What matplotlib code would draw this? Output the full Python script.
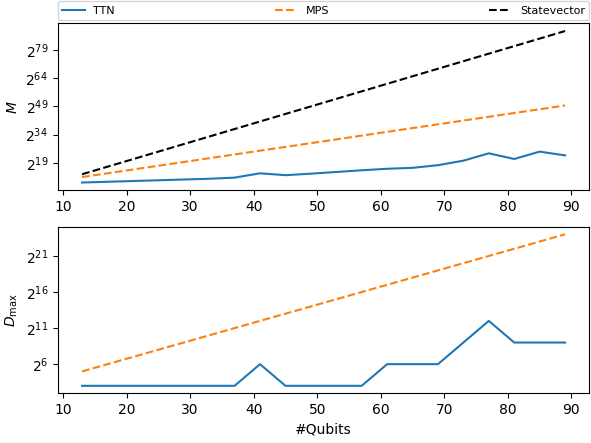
import numpy as np
import matplotlib
matplotlib.use("Agg")
import matplotlib.pyplot as plt
from matplotlib.ticker import FixedLocator, FuncFormatter, NullLocator

# qubit counts
qubits = [13, 17, 21, 25, 29, 33, 37, 41, 45, 49, 53, 57, 61, 65, 69, 73, 77, 81, 85, 89]

# memory M, read as log2 exponents
m_ttn_exp = [8.6, 9.0, 9.4, 9.8, 10.2, 10.6, 11.2, 13.5, 12.5, 13.3, 14.2, 15.1,
             15.9, 16.4, 17.8, 20.2, 24.1, 21.1, 25.0, 23.0]
m_mps_exp = [11.5, 13.5, 15.5, 17.5, 19.5, 21.5, 23.5, 25.5, 27.5, 29.5, 31.5, 33.5,
             35.5, 37.5, 39.5, 41.5, 43.5, 45.5, 47.5, 49.5]
m_sv_exp = [13, 17, 21, 25, 29, 33, 37, 41, 45, 49, 53, 57, 61, 65, 69, 73, 77, 81, 85, 89]

# max bond dimension, log2 exponents
d_ttn_exp = [3, 3, 3, 3, 3, 3, 3, 6, 3, 3, 3, 3, 6, 6, 6, 9, 12, 9, 9, 9]
d_mps_exp = [5, 6, 7, 8, 9, 10, 11, 12, 13, 14, 15, 16, 17, 18, 19, 20, 21, 22, 23, 24]

m_ticks = [19, 34, 49, 64, 79]
d_ticks = [6, 11, 16, 21]

pow2 = lambda e: 2.0 ** np.array(e, dtype=float)
fmt = FuncFormatter(lambda v, p: r"$\mathdefault{2^{%d}}$" % round(np.log2(v)))

fig, (ax1, ax2) = plt.subplots(2, 1, figsize=(5.91, 4.43), dpi=100)
fig.subplots_adjust(left=0.098, right=0.997, top=0.947, bottom=0.112, hspace=0.22)

ax1.plot(qubits, pow2(m_ttn_exp), color="C0", label="TTN")
ax1.plot(qubits, pow2(m_mps_exp), color="C1", linestyle="--", label="MPS")
ax1.plot(qubits, pow2(m_sv_exp), color="black", linestyle="--", label="Statevector")
ax1.set_yscale("log", base=2)
ax1.yaxis.set_major_locator(FixedLocator(pow2(m_ticks)))
ax1.yaxis.set_major_formatter(fmt)
ax1.yaxis.set_minor_locator(NullLocator())
ax1.set_ylabel("$M$")
ax1.legend(bbox_to_anchor=(0, 1.02, 1, 0.1), loc="lower left", ncol=3, mode="expand",
           borderaxespad=0, fontsize=8)

ax2.plot(qubits, pow2(d_ttn_exp), color="C0")
ax2.plot(qubits, pow2(d_mps_exp), color="C1", linestyle="--")
ax2.set_yscale("log", base=2)
ax2.yaxis.set_major_locator(FixedLocator(pow2(d_ticks)))
ax2.yaxis.set_major_formatter(fmt)
ax2.yaxis.set_minor_locator(NullLocator())
ax2.set_ylabel(r"$D_\mathrm{max}$")
ax2.set_xlabel("#Qubits")

fig.savefig("out.png", dpi=100)
